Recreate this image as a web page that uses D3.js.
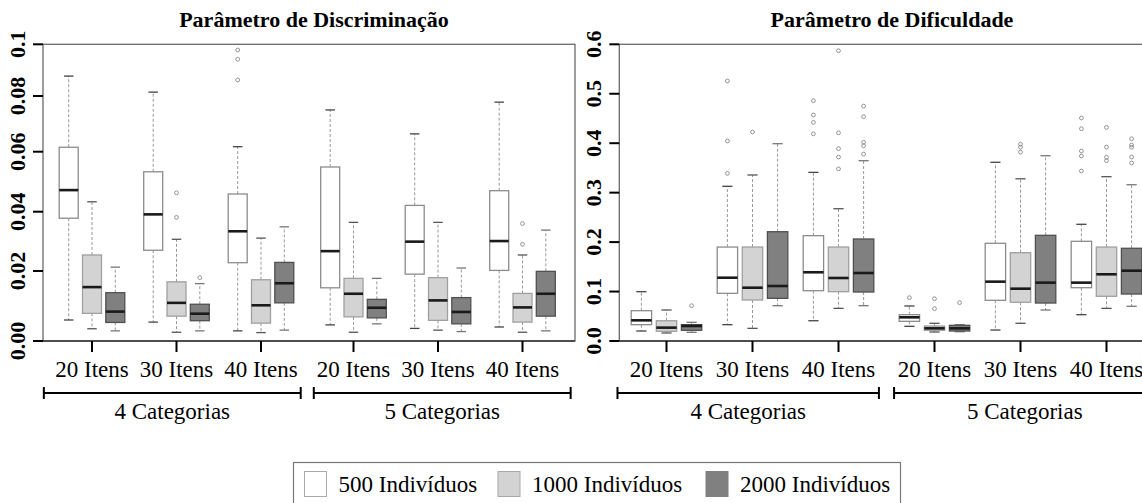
<!DOCTYPE html>
<html><head><meta charset="utf-8">
<script src="https://cdn.jsdelivr.net/npm/d3@7"></script>
<style>
body{margin:0;background:#fff}
svg{display:block}
</style>
</head><body>
<svg id="chart" width="1142" height="503"></svg>
<script>
// ---------------- DATA ----------------
const categories = ["4 Categorias", "5 Categorias"];
const itens = ["20 Itens", "30 Itens", "40 Itens"];
const sizes = ["500 Indivíduos", "1000 Indivíduos", "2000 Indivíduos"];

const discTicks = [0, 0.02, 0.04, 0.06, 0.08, 0.1];
const discTickLabels = ["0.00", "0.02", "0.04", "0.06", "0.08", "0.1"];
const difTicks = [0, 0.1, 0.2, 0.3, 0.4, 0.5, 0.6];
const difTickLabels = ["0.0", "0.1", "0.2", "0.3", "0.4", "0.5", "0.6"];

// order: category -> itens -> sizes ; each [lower whisker, Q1, median, Q3, upper whisker]
const discStats = [
  [0.0060, 0.0378, 0.0472, 0.0616, 0.0877], [0.0035, 0.0079, 0.0154, 0.0254, 0.0433], [0.0029, 0.0053, 0.0084, 0.0138, 0.0213],
  [0.0054, 0.0270, 0.0391, 0.0533, 0.0815], [0.0025, 0.0071, 0.0109, 0.0169, 0.0307], [0.0029, 0.0058, 0.0078, 0.0105, 0.0164],
  [0.0029, 0.0228, 0.0334, 0.0459, 0.0618], [0.0024, 0.0051, 0.0102, 0.0175, 0.0311], [0.0031, 0.0109, 0.0165, 0.0229, 0.0349],
  [0.0046, 0.0152, 0.0267, 0.0549, 0.0750], [0.0025, 0.0069, 0.0135, 0.0179, 0.0364], [0.0049, 0.0066, 0.0095, 0.0119, 0.0179],
  [0.0036, 0.0191, 0.0299, 0.0421, 0.0664], [0.0031, 0.0059, 0.0116, 0.0181, 0.0364], [0.0027, 0.0049, 0.0083, 0.0124, 0.0210],
  [0.0040, 0.0202, 0.0301, 0.0470, 0.0778], [0.0025, 0.0054, 0.0096, 0.0136, 0.0254], [0.0029, 0.0071, 0.0135, 0.0199, 0.0338]
];
const discOutliers = [
  [], [], [],
  [], [0.0463, 0.0381], [0.0181],
  [0.0978, 0.0942, 0.0862], [], [],
  [], [], [],
  [], [], [],
  [], [0.0360, 0.0290], []
];

const difStats = [
  [0.0202, 0.0330, 0.0418, 0.0613, 0.0997], [0.0162, 0.0196, 0.0270, 0.0410, 0.0627], [0.0176, 0.0216, 0.0303, 0.0330, 0.0378],
  [0.0330, 0.0964, 0.1280, 0.1900, 0.3128], [0.0256, 0.0829, 0.1078, 0.1900, 0.3357], [0.0714, 0.0863, 0.1112, 0.2210, 0.3990],
  [0.0410, 0.1017, 0.1390, 0.2130, 0.3410], [0.0660, 0.0997, 0.1274, 0.1900, 0.2675], [0.0714, 0.0991, 0.1375, 0.2063, 0.3646],
  [0.0297, 0.0398, 0.0479, 0.0532, 0.0708], [0.0182, 0.0216, 0.0256, 0.0303, 0.0358], [0.0188, 0.0202, 0.0256, 0.0317, 0.0330],
  [0.0222, 0.0823, 0.1200, 0.1976, 0.3614], [0.0358, 0.0783, 0.1058, 0.1786, 0.3280], [0.0627, 0.0768, 0.1180, 0.2137, 0.3747],
  [0.0532, 0.1078, 0.1180, 0.2016, 0.2360], [0.0660, 0.0904, 0.1349, 0.1900, 0.3323], [0.0702, 0.0950, 0.1422, 0.1875, 0.3160]
];
const difOutliers = [
  [], [], [0.0714],
  [0.5258, 0.4045, 0.339], [0.4226], [],
  [0.486, 0.457, 0.442, 0.419], [0.587, 0.421, 0.389, 0.372, 0.348], [0.475, 0.4536, 0.4018, 0.395, 0.378],
  [0.0876], [0.0855, 0.0653], [0.0775],
  [], [0.398, 0.392, 0.382], [],
  [0.451, 0.4293, 0.3842, 0.374, 0.3438], [0.432, 0.392, 0.3715, 0.3646], [0.409, 0.3964, 0.3917, 0.372, 0.36]
];

const titles = ["Parâmetro de Discriminação", "Parâmetro de Dificuldade"];

// ---------------- DRAW ----------------
const FONT = "'Liberation Serif', 'DejaVu Serif', serif";
const svg = d3.select("#chart").attr("font-family", FONT);
svg.append("rect").attr("width", 1142).attr("height", 503).attr("fill", "#fff");

const fills = ["#ffffff", "#d3d3d3", "#808080"];
const borders = ["#8c8c8c", "#a0a0a0", "#505050"];
const capColors = ["#444", "#555", "#777"];
const FS = 22;     // bold text
const FSR = 23;    // regular text

function drawPanel(cfg) {
  const g = svg.append("g");
  const y = d3.scaleLinear().domain(cfg.domain).range(cfg.range);

  const xCat = d3.scalePoint().domain(categories).range([cfg.first, cfg.first + 3 * cfg.step + cfg.gap]);
  const xItem = d3.scalePoint().domain(itens).range([0, 2 * cfg.step]);
  const p = 1 - cfg.boxW / cfg.boxStep;
  const xSize = d3.scaleBand().domain(sizes).range([-1.5 * cfg.boxStep, 1.5 * cfg.boxStep])
    .paddingInner(p).paddingOuter(p / 2);
  const bw = xSize.bandwidth();

  const top = y(cfg.domain[cfg.domain.length - 1]);
  const bottom = y(0);

  g.append("rect").attr("x", cfg.x0).attr("y", top).attr("width", cfg.x1 - cfg.x0).attr("height", bottom - top)
    .attr("fill", "none").attr("stroke", "#6a6a6a").attr("stroke-width", 1.3);
  g.append("line").attr("x1", cfg.x0).attr("x2", cfg.x1).attr("y1", bottom).attr("y2", bottom)
    .attr("stroke", "#333").attr("stroke-width", 1.5);

  cfg.ticks.forEach((t, i) => {
    g.append("line").attr("x1", cfg.x0 - 10).attr("x2", cfg.x0).attr("y1", y(t)).attr("y2", y(t))
      .attr("stroke", "#000").attr("stroke-width", 2);
    g.append("text").attr("transform", `translate(${cfg.x0 - 18},${y(t)}) rotate(-90)`)
      .attr("text-anchor", "middle").attr("font-size", FS).attr("font-weight", "bold")
      .text(cfg.tickLabels[i]);
  });

  const stats = cfg.stats;
  categories.forEach((c, ci) => {
    itens.forEach((it, ii) => {
      const gx = xCat(c) + xItem(it);
      g.append("line").attr("x1", gx).attr("x2", gx).attr("y1", bottom).attr("y2", bottom + 11)
        .attr("stroke", "#000").attr("stroke-width", 2);
      g.append("text").attr("x", gx).attr("y", 377).attr("text-anchor", "middle")
        .attr("font-size", FSR).text(it);
      sizes.forEach((s, si) => {
        const k = ci * 9 + ii * 3 + si;
        const [lo, q1, med, q3, hi] = stats[k];
        const cx = gx + xSize(s) + bw / 2;
        const bg = g.append("g");
        bg.append("line").attr("x1", cx).attr("x2", cx).attr("y1", y(q3)).attr("y2", y(hi))
          .attr("stroke", "#999").attr("stroke-dasharray", "3,2").attr("stroke-width", 1);
        bg.append("line").attr("x1", cx).attr("x2", cx).attr("y1", y(q1)).attr("y2", y(lo))
          .attr("stroke", "#999").attr("stroke-dasharray", "3,2").attr("stroke-width", 1);
        [hi, lo].forEach(v => {
          bg.append("line").attr("x1", cx - bw / 4).attr("x2", cx + bw / 4).attr("y1", y(v)).attr("y2", y(v))
            .attr("stroke", capColors[si]).attr("stroke-width", 1.3);
        });
        bg.append("rect").attr("x", cx - bw / 2).attr("width", bw).attr("y", y(q3)).attr("height", y(q1) - y(q3))
          .attr("fill", fills[si]).attr("stroke", borders[si]).attr("stroke-width", 1.3);
        bg.append("line").attr("x1", cx - bw / 2).attr("x2", cx + bw / 2).attr("y1", y(med)).attr("y2", y(med))
          .attr("stroke", "#1a1a1a").attr("stroke-width", 2.6);
        cfg.outliers[k].forEach(o => {
          bg.append("circle").attr("cx", cx).attr("cy", y(o)).attr("r", 1.9)
            .attr("fill", "none").attr("stroke", "#888").attr("stroke-width", 0.9);
        });
      });
    });
    const ext0 = ci === 0 ? 0.57 : 0.47;
    const ext1 = ci === 0 ? 0.47 : 0.57;
    const bx0 = xCat(c) - ext0 * cfg.step;
    const bx1 = xCat(c) + (2 + ext1) * cfg.step;
    const by = 393;
    g.append("line").attr("x1", bx0).attr("x2", bx1).attr("y1", by).attr("y2", by).attr("stroke", "#000").attr("stroke-width", 2);
    [bx0, bx1].forEach(bx => g.append("line").attr("x1", bx).attr("x2", bx).attr("y1", by - 6).attr("y2", by + 6)
      .attr("stroke", "#000").attr("stroke-width", 2));
    g.append("text").attr("x", (bx0 + bx1) / 2).attr("y", 419).attr("text-anchor", "middle")
      .attr("font-size", FSR).text(c);
  });

  g.append("text").attr("x", cfg.titleX).attr("y", 27).attr("text-anchor", "middle")
    .attr("font-size", FS).attr("font-weight", "bold").text(cfg.title);
}

drawPanel({
  x0: 43, x1: 575, first: 92, step: 84.5, gap: 8, boxStep: 23.3, boxW: 19,
  domain: discTicks, range: [341, 271, 211.7, 151.7, 96, 44.3],
  ticks: discTicks, tickLabels: discTickLabels,
  stats: discStats, outliers: discOutliers, title: titles[0], titleX: 314
});
drawPanel({
  x0: 619.3, x1: 1168, first: 666.5, step: 86, gap: 10, boxStep: 25.1, boxW: 20.4,
  domain: [0, 0.6], range: [341, 44.3],
  ticks: difTicks, tickLabels: difTickLabels,
  stats: difStats, outliers: difOutliers, title: titles[1], titleX: 892
});

const lg = svg.append("g");
lg.append("rect").attr("x", 293.5).attr("y", 462.5).attr("width", 607).attr("height", 45)
  .attr("fill", "#fff").attr("stroke", "#777").attr("stroke-width", 1.2);
const legX = d3.scaleOrdinal().domain(sizes).range([304.5, 498, 706]);
sizes.forEach((s, i) => {
  lg.append("rect").attr("x", legX(s)).attr("y", 471.5).attr("width", 22).attr("height", 25)
    .attr("fill", fills[i]).attr("stroke", i === 2 ? "#808080" : "#aaa").attr("stroke-width", 1);
  lg.append("text").attr("x", legX(s) + 34).attr("y", 491.5).attr("font-size", FSR).text(s);
});
</script>
</body></html>
